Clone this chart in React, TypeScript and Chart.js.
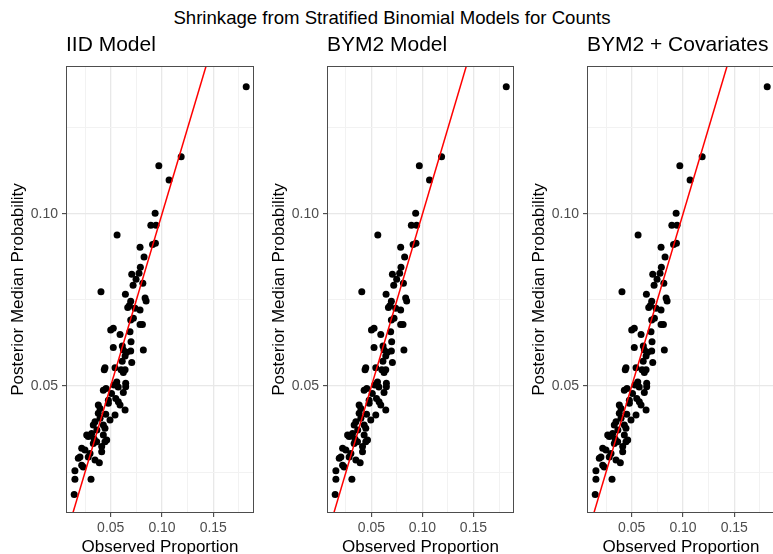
import React, { useEffect, useRef } from 'react';
import { Chart, registerables } from 'chart.js';

Chart.register(...registerables);

const mainTitle = 'Shrinkage from Stratified Binomial Models for Counts';
const panelTitles = ['IID Model', 'BYM2 Model', 'BYM2 + Covariates'];
const xTitle = 'Observed Proportion';
const yTitle = 'Posterior Median Probability';

const xTickValues = [0.025, 0.05, 0.075, 0.1, 0.125, 0.15, 0.175];
const yTickValues = [0.025, 0.05, 0.075, 0.1, 0.125];
const xRange = [0.0064, 0.1897];
const yRange = [0.0131, 0.143];
const identityLine = [0, 0.2];

const observed = [
  0.1821, 0.1187, 0.0969, 0.1069, 0.0933, 0.0891, 0.0942, 0.0562, 0.0908, 0.0936,
  0.0786, 0.0825, 0.0789, 0.0776, 0.0705, 0.0747, 0.0813, 0.0718, 0.0405, 0.0643,
  0.0835, 0.0845, 0.0695, 0.0682, 0.0666, 0.0737, 0.0786, 0.0721, 0.0525, 0.0786,
  0.0809, 0.0695, 0.05, 0.0591, 0.0688, 0.0698, 0.0525, 0.0613, 0.0623, 0.0656,
  0.0695, 0.0818, 0.064, 0.0705, 0.0444, 0.0437, 0.0542, 0.064, 0.0623, 0.0601,
  0.0559, 0.0532, 0.0646, 0.0646, 0.0428, 0.0454, 0.0623, 0.0477, 0.0477, 0.0549,
  0.0574, 0.0591, 0.0379, 0.0396, 0.064, 0.0542, 0.0493, 0.0379, 0.0396, 0.0347,
  0.033, 0.0428, 0.0444, 0.0266, 0.0281, 0.0314, 0.0428, 0.0461, 0.0444, 0.033,
  0.0363, 0.0217, 0.0249, 0.0412, 0.0412, 0.02, 0.0184, 0.0281, 0.0298, 0.0347,
  0.0389, 0.0217, 0.0232, 0.0151, 0.0151, 0.0308, 0.0144, 0.0365, 0.0452, 0.0508,
  0.0338, 0.0573, 0.0612,
];

const posteriorMedian = [
  0.137, 0.1166, 0.114, 0.1099, 0.1002, 0.0967, 0.0967, 0.0939, 0.0911, 0.0915,
  0.0903, 0.0875, 0.0845, 0.0828, 0.0825, 0.081, 0.0799, 0.0793, 0.0774, 0.0767,
  0.0756, 0.0747, 0.0746, 0.0734, 0.0728, 0.0726, 0.0721, 0.0697, 0.0668, 0.0679,
  0.0679, 0.0692, 0.0663, 0.065, 0.0658, 0.0629, 0.0612, 0.0616, 0.0605, 0.0598,
  0.0602, 0.0605, 0.0587, 0.0568, 0.0553, 0.0547, 0.0553, 0.0547, 0.0539, 0.0547,
  0.0512, 0.0503, 0.0508, 0.0498, 0.0488, 0.0493, 0.0481, 0.0459, 0.045, 0.0464,
  0.0454, 0.0445, 0.0445, 0.0435, 0.043, 0.0416, 0.0401, 0.0421, 0.0406, 0.0396,
  0.0387, 0.0387, 0.0377, 0.0358, 0.0353, 0.0362, 0.0358, 0.0343, 0.0338, 0.0333,
  0.0338, 0.0319, 0.0314, 0.0324, 0.0309, 0.0294, 0.029, 0.0294, 0.0304, 0.0285,
  0.0277, 0.027, 0.0265, 0.0254, 0.0229, 0.0229, 0.0185, 0.0372, 0.0418, 0.0478,
  0.0346, 0.0497, 0.0572,
];

const FONT = "'Liberation Sans', Arial, Helvetica, sans-serif";
const isMajor = (v: number) => Math.abs(v / 0.05 - Math.round(v / 0.05)) < 1e-6;

const framePlugin = {
  id: 'panelFrame',
  afterDraw(chart: any) {
    const { ctx, chartArea } = chart;
    ctx.save();
    ctx.strokeStyle = '#4D4D4D';
    ctx.lineWidth = 1;
    ctx.strokeRect(
      Math.round(chartArea.left) + 0.5,
      Math.round(chartArea.top) + 0.5,
      Math.round(chartArea.right - chartArea.left) - 1,
      Math.round(chartArea.bottom - chartArea.top) - 1
    );
    ctx.restore();
  },
};

const CANVAS_H = 580;
const CHART_BOTTOM = 513;
const Y_AXIS_W = 66;

function Panel({ index, left, width }: { index: number; left: number; width: number }) {
  const ref = useRef<HTMLCanvasElement | null>(null);
  useEffect(() => {
    if (!ref.current) return;
    const points = observed.map((x, i) => ({ x, y: posteriorMedian[i] }));
    const line = identityLine.map((v) => ({ x: v, y: v }));
    const gridColor = (ctx: any) =>
      ctx.tick && isMajor(ctx.tick.value) ? '#E8E8E8' : '#F2F2F2';
    const gridWidth = (ctx: any) => (ctx.tick && isMajor(ctx.tick.value) ? 1.3 : 1);
    const tickColor = (ctx: any) =>
      ctx.tick && isMajor(ctx.tick.value) ? '#333333' : 'rgba(0,0,0,0)';
    const chart = new Chart(ref.current, {
      type: 'scatter',
      data: {
        datasets: [
          {
            type: 'line',
            data: line,
            borderColor: '#FF0000',
            borderWidth: 1.5,
            pointRadius: 0,
            fill: false,
            order: 0,
          } as any,
          {
            data: points,
            backgroundColor: '#000000',
            borderWidth: 0,
            pointRadius: 3.5,
            pointHoverRadius: 3.5,
            order: 1,
          },
        ],
      },
      options: {
        animation: false,
        responsive: false,
        events: [],
        layout: { padding: { top: 0, left: 0, right: 6, bottom: 0 } },
        plugins: {
          legend: { display: false },
          tooltip: { enabled: false },
          title: {
            display: true,
            text: panelTitles[index],
            align: 'start',
            fullSize: false,
            color: '#000000',
            font: { family: FONT, size: 21, weight: 'normal', lineHeight: 1.2 },
            padding: { top: 33, bottom: 7.8 },
          },
        },
        scales: {
          x: {
            type: 'linear',
            min: xRange[0],
            max: xRange[1],
            afterBuildTicks: (scale: any) => {
              scale.ticks = xTickValues.map((v) => ({ value: v }));
            },
            afterFit: (scale: any) => {
              scale.height = CANVAS_H - CHART_BOTTOM;
            },
            border: { display: false },
            grid: {
              color: gridColor,
              lineWidth: gridWidth,
              tickColor,
              tickLength: 4,
              tickWidth: 1,
            },
            ticks: {
              autoSkip: false,
              maxRotation: 0,
              padding: 3,
              color: '#4D4D4D',
              font: { family: FONT, size: 14 },
              callback: (v: any) => (isMajor(Number(v)) ? Number(v).toFixed(2) : ''),
            },
            title: {
              display: true,
              text: xTitle,
              color: '#000000',
              font: { family: FONT, size: 17, lineHeight: 1.2 },
              padding: { top: 0, bottom: 22.8 },
            },
          },
          y: {
            type: 'linear',
            min: yRange[0],
            max: yRange[1],
            afterBuildTicks: (scale: any) => {
              scale.ticks = yTickValues.map((v) => ({ value: v }));
            },
            afterFit: (scale: any) => {
              scale.width = Y_AXIS_W;
            },
            border: { display: false },
            grid: {
              color: gridColor,
              lineWidth: gridWidth,
              tickColor,
              tickLength: 4,
              tickWidth: 1,
            },
            ticks: {
              autoSkip: false,
              padding: 4,
              color: '#4D4D4D',
              font: { family: FONT, size: 14 },
              callback: (v: any) => (isMajor(Number(v)) ? Number(v).toFixed(2) : ''),
            },
            title: {
              display: true,
              text: yTitle,
              color: '#000000',
              font: { family: FONT, size: 17, lineHeight: 1.2 },
              padding: { top: 7.8, bottom: 0 },
            },
          },
        },
      } as any,
      plugins: [framePlugin],
    });
    return () => chart.destroy();
  }, [index]);
  return (
    <canvas
      ref={ref}
      width={width}
      height={CANVAS_H}
      style={{ position: 'absolute', left, top: 0, width, height: CANVAS_H }}
    />
  );
}

export default function App() {
  return (
    <div
      style={{
        position: 'fixed',
        left: 0,
        top: 0,
        width: 773,
        height: 554,
        overflow: 'hidden',
        background: '#FFFFFF',
      }}
    >
      <div
        style={{
          position: 'absolute',
          left: 0,
          top: 7,
          width: 784,
          textAlign: 'center',
          fontFamily: FONT,
          fontSize: 18.6,
          lineHeight: '22px',
          color: '#000000',
          whiteSpace: 'nowrap',
        }}
      >
        {mainTitle}
      </div>
      <Panel index={0} left={0} width={260} />
      <Panel index={1} left={261} width={259} />
      <Panel index={2} left={521} width={260} />
    </div>
  );
}
